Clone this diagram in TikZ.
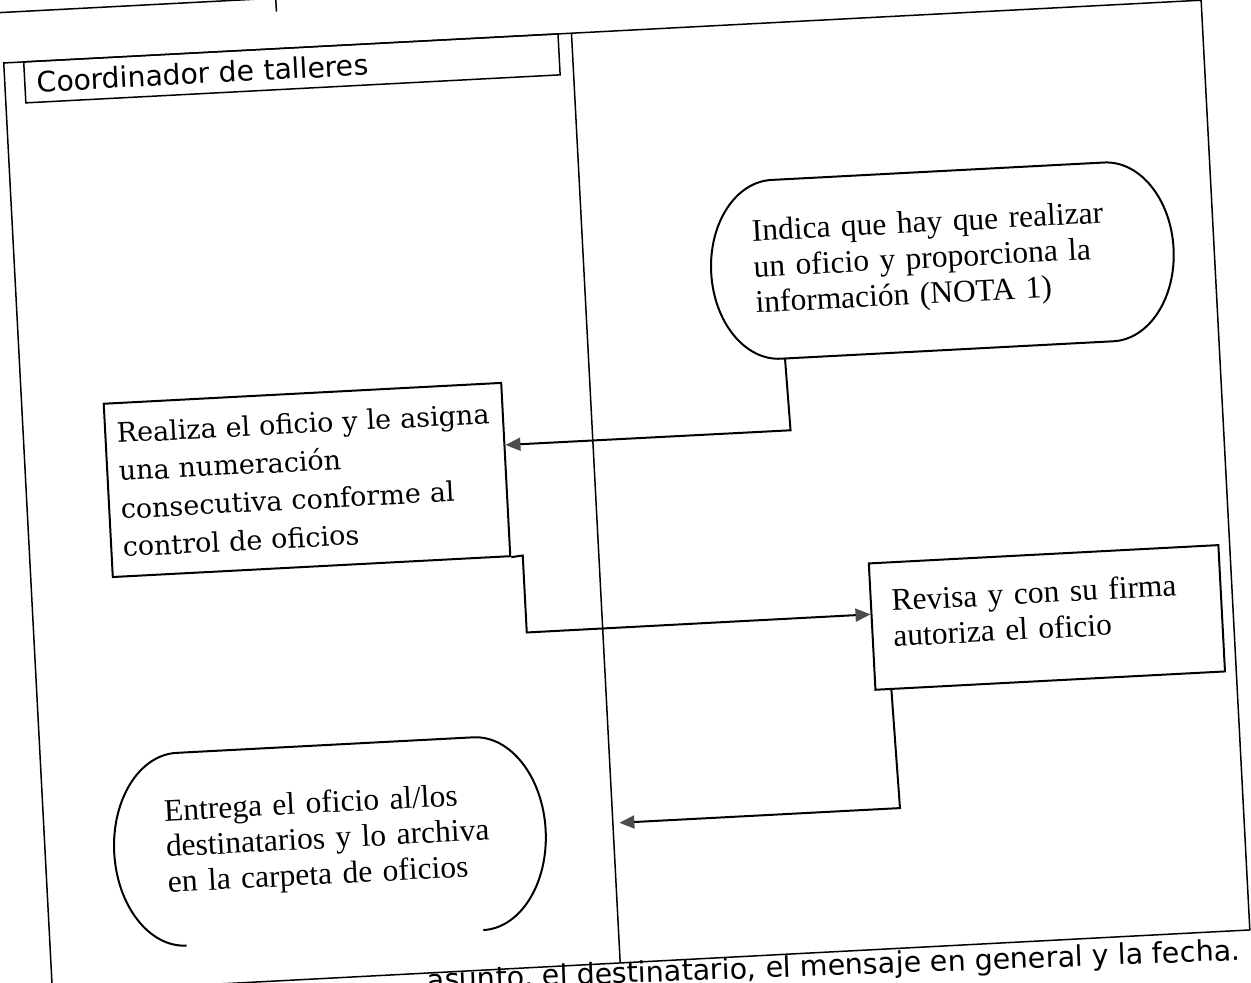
\documentclass[tikz,border=0pt]{standalone}
\usepackage{fontspec}
\setmainfont{Liberation Serif}
\newfontfamily\headfont{DejaVu Sans}
\newfontfamily\boxfont{DejaVu Serif}
\usepackage{tikz}
\usetikzlibrary{arrows.meta}

\begin{document}
\begin{tikzpicture}[
			x=0.4pt, y=-0.4pt,
			lane/.style={draw, line width=0.6pt},
			box/.style={rectangle, draw, line width=0.8pt, align=left, font=\fontsize{12.6}{14.3}\selectfont},
			terminal/.style={box, draw=none},
			outline/.style={line width=0.8pt},
			arrow/.style={-{Triangle[length=6pt, width=5.2pt, color=black!70]}, line width=0.8pt}
			]
			\useasboundingbox (0,0) rectangle (1251,982);
			\clip (0,0) rectangle (1251,982);
			\begin{scope}[rotate around={3:(625.5,491)}, transform shape]
			% Lanes
			\draw[lane] (27,31) rectangle (1226,962);
			\draw[lane] (595.5,31) -- (595.5,962);
			\draw[lane] (0,-19.5) -- (420,-19.5);
			\draw[lane] (302,-19.5) -- (302,-6);
			\node (lanehead) [lane, minimum height=16.4pt, inner xsep=4.8pt, inner ysep=1pt, text width=204.4pt, align=left, font=\headfont\fontsize{11.3}{13}\selectfont] at (314.5,51.5) {Coordinador de talleres};
			
			% Activity nodes
			\node (indica) [terminal, minimum height=71.6pt, inner xsep=16.7pt, text width=151.8pt] at (955,276.5) {Indica que hay que realizar\\un oficio y proporciona la\\información (NOTA 1)};
			\node (realiza) [box, font=\boxfont\fontsize{10.8}{15.2}\selectfont, minimum height=69.4pt, inner xsep=4.6pt, text width=150pt] at (308,463.3) {Realiza el oficio y le asigna\\una numeración\\consecutiva conforme al\\control de oficios};
			\node (revisa) [box, minimum height=50.6pt, inner xsep=8.3pt, inner ysep=2pt, text width=123.4pt, text depth=20.6pt] at (1039.7,639.3) {Revisa y con su firma\\autoriza el oficio};
			\node (entrega) [terminal, minimum height=77.2pt, inner xsep=20.4pt, text width=132pt] at (313,824.5) {Entrega el oficio al/los\\destinatarios y lo archiva\\en la carpeta de oficios};
			
			% Terminal outlines
			\draw[outline] (indica.south west) ++(26pt,0) arc[start angle=270, end angle=90, x radius=26pt, y radius=35.8pt] -- ++(133.2pt,0) arc[start angle=90, end angle=-90, x radius=26pt, y radius=35.8pt] -- cycle;
			\draw[outline] (entrega.south west) ++(27pt,0) arc[start angle=270, end angle=90, x radius=27pt, y radius=38.6pt] -- ++(118.8pt,0) arc[start angle=90, end angle=-90, x radius=27pt, y radius=38.6pt];
			
			% Connectors
			\coordinate (bendA) at (793.5,439);
			\coordinate (bendB1) at (519.5,550);
			\coordinate (bendB2) at (519.5,627.1);
			\coordinate (bendC) at (883,822);
			\coordinate (entregaIn) at (602,822);
			\draw[arrow] (indica.209) -- (bendA) -- (realiza.7);
			\draw[arrow] (realiza.south east) -- (bendB1) -- (bendB2) -- (revisa.176);
			\draw[arrow] (revisa.202) -- (bendC) -- (entregaIn);
			
			% Note below the lanes
			\node (nota) [anchor=base east, rotate=-0.9, font=\headfont\fontsize{11.4}{13}\selectfont] at (1224,992) {asunto, el destinatario, el mensaje en general y la fecha.};
			\end{scope}
		\end{tikzpicture}
\end{document}
